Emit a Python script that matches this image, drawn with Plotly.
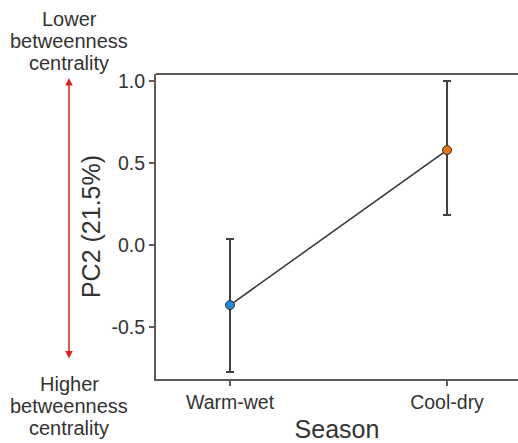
import plotly.graph_objects as go

seasons = ["Warm-wet", "Cool-dry"]
means = [-0.366, 0.579]
upper = [0.037, 1.0]
lower = [-0.774, 0.183]
colors = ["#1f8ad2", "#e8730f"]

top_label = ["Lower", "betweenness", "centrality"]
bottom_label = ["Higher", "betweenness", "centrality"]

err_plus = [u - m for u, m in zip(upper, means)]
err_minus = [m - l for m, l in zip(means, lower)]
xpos = [0, 1]

FONT = "Liberation Sans, Arial, sans-serif"
TXT = "#333333"
AX = "#5f5a58"

H, T, B, L, W = 443, 74, 64, 156, 518
PH = H - T - B
PW = W - L


def py(pix):
    return (H - B - pix) / PH


def px(pix):
    return (pix - L) / PW


fig = go.Figure()
fig.add_trace(go.Scatter(
    x=xpos, y=means, mode="lines+markers",
    line=dict(color="#333333", width=1.5),
    marker=dict(color=colors, size=9, line=dict(color="#333333", width=1)),
    error_y=dict(type="data", symmetric=False, array=err_plus, arrayminus=err_minus,
                 color="#404040", thickness=2, width=4),
    showlegend=False,
))

annotations = []
for txt, ypix in zip(top_label, [19, 41, 63]):
    annotations.append(dict(text=txt, xref="paper", yref="paper", x=px(69), y=py(ypix),
                            xanchor="center", yanchor="middle", showarrow=False,
                            font=dict(size=20, color=TXT, family=FONT)))
for txt, ypix in zip(bottom_label, [384, 406, 428]):
    annotations.append(dict(text=txt, xref="paper", yref="paper", x=px(69), y=py(ypix),
                            xanchor="center", yanchor="middle", showarrow=False,
                            font=dict(size=20, color=TXT, family=FONT)))
annotations.append(dict(text="", xref="paper", yref="paper", x=px(69), y=py(78),
                        ax=0, ay=282, showarrow=True, arrowhead=2, startarrowhead=2,
                        arrowside="end+start", arrowsize=1, arrowwidth=1.5, arrowcolor="#e0201f",
                        standoff=0, startstandoff=0))

fig.update_layout(
    width=W, height=H,
    margin=dict(l=L, r=0, t=T, b=B),
    paper_bgcolor="white", plot_bgcolor="white",
    font=dict(family=FONT, color=TXT),
    xaxis=dict(
        range=[-0.341, 1.327], tickvals=xpos, ticktext=seasons,
        showgrid=False, zeroline=False, showline=True, linecolor=AX, linewidth=2,
        ticks="outside", ticklen=5, tickwidth=1.5, tickcolor=AX,
        tickfont=dict(size=19.5, color=TXT, family=FONT),
        title=dict(text="Season", font=dict(size=25, color=TXT, family=FONT), standoff=9),
    ),
    yaxis=dict(
        range=[-0.817, 1.043], tickvals=[-0.5, 0.0, 0.5, 1.0],
        ticktext=["-0.5", "0.0", "0.5", "1.0"],
        showgrid=False, zeroline=False, showline=True, linecolor=AX, linewidth=2,
        ticks="outside", ticklen=5, tickwidth=1.5, tickcolor=AX,
        tickfont=dict(size=19.5, color=TXT, family=FONT),
        title=dict(text="PC2 (21.5%)", font=dict(size=25, color=TXT, family=FONT), standoff=4),
    ),
    shapes=[dict(type="line", xref="paper", yref="paper", x0=0, x1=1, y0=1, y1=1,
                 line=dict(color=AX, width=2))],
    annotations=annotations,
)

fig.write_html("out.html")
